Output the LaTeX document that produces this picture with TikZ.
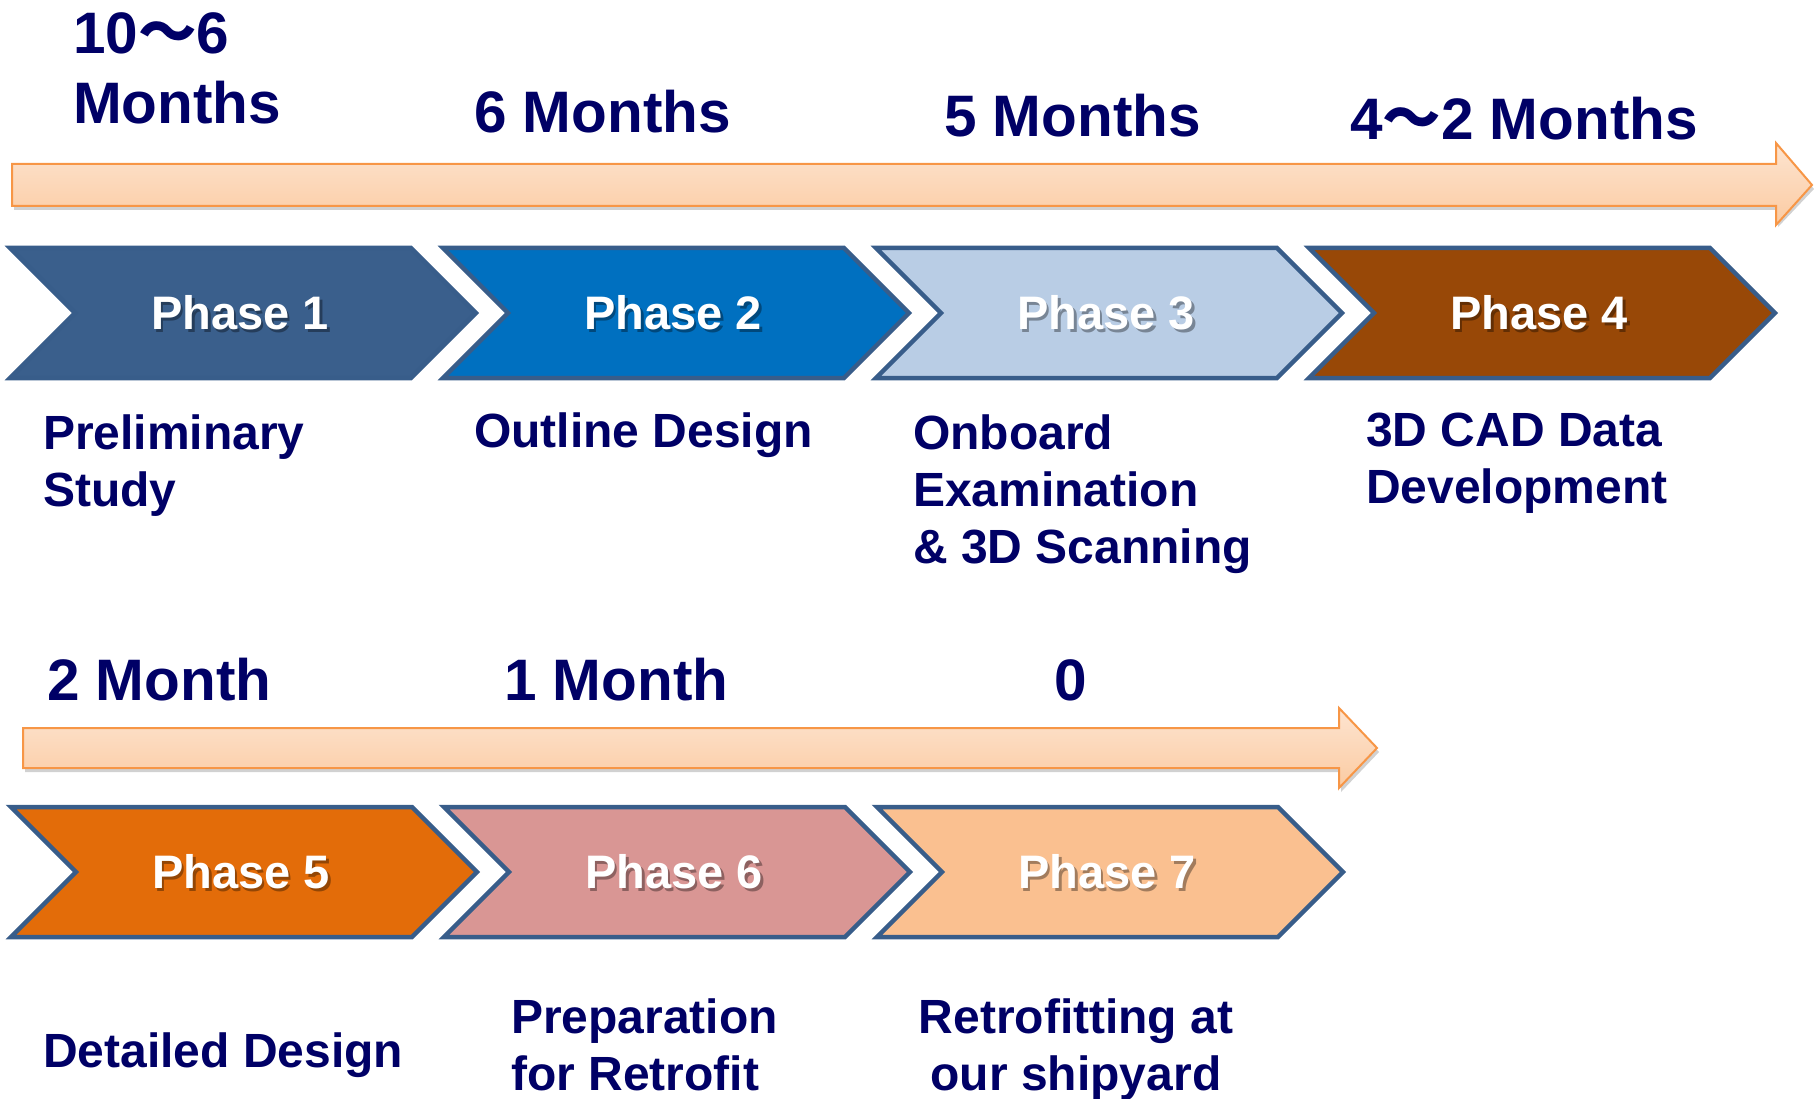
\documentclass[tikz,border=0pt]{standalone}
\usepackage{fontspec}
\setmainfont{Liberation Sans}
\newfontfamily\cjk{Noto Sans CJK JP}
\definecolor{navy}{HTML}{000066}
\definecolor{bordc}{HTML}{385D8A}
\definecolor{cA}{HTML}{3A5F8C}
\definecolor{cB}{HTML}{0070C0}
\definecolor{cC}{HTML}{B9CDE5}
\definecolor{cD}{HTML}{984807}
\definecolor{cE}{HTML}{E36C09}
\definecolor{cF}{HTML}{D99694}
\definecolor{cG}{HTML}{FAC090}
\definecolor{arrb}{HTML}{F79646}
\definecolor{arrt}{HTML}{FDE4D0}
\definecolor{arrbot}{HTML}{FBCBA2}
\newcommand\chevron[3]{%
  \filldraw[chevb, fill=#3] (#1,#2) -- ++(401,0) -- ++(65,65) -- ++(-65,65) -- ++(-401,0) -- ++(65,-65) -- cycle;}
\begin{document}
\begin{tikzpicture}[x=1pt,y=-1pt,
  chevb/.style={draw=bordc, line width=4.5pt, line join=miter},
  plab/.style={font=\fontsize{47}{56}\selectfont\bfseries, text=white, inner sep=0},
  pshad/.style={font=\fontsize{47}{56}\selectfont\bfseries, text=black, opacity=0.35, inner sep=0},
  mon/.style={font=\fontsize{58.5}{70}\selectfont\bfseries, text=navy, anchor=base west, inner sep=0, align=left},
  desc/.style={font=\fontsize{48}{57}\selectfont\bfseries, text=navy, anchor=base west, inner sep=0, align=left},
  tarrow/.style={draw=arrb, line width=2pt, top color=arrt, bottom color=arrbot},
  ashad/.style={fill=black, opacity=0.18}
]
\useasboundingbox (0,0) rectangle (1814,1099);

% top timeline arrow
\fill[ashad] (14,168) -- (1778,168) -- (1778,147) -- (1814,189) -- (1778,227) -- (1778,210) -- (14,210) -- cycle;
\path[tarrow] (12,164) -- (1776,164) -- (1776,143) -- (1812,185) -- (1776,225) -- (1776,206) -- (12,206) -- cycle;

% bottom timeline arrow
\fill[ashad] (25,732) -- (1341,732) -- (1341,712) -- (1379,752) -- (1341,792) -- (1341,772) -- (25,772) -- cycle;
\path[tarrow] (23,728) -- (1339,728) -- (1339,708) -- (1377,748) -- (1339,788) -- (1339,768) -- (23,768) -- cycle;

% month labels
\node[mon] (m1) at (73,124) {10{\cjk\bfseries 〜}6\\Months};
\node[mon] (m2) at (474,133) {6 Months};
\node[mon] (m3) at (944,137) {5 Months};
\node[mon] (m4) at (1350,140) {4{\cjk\bfseries 〜}2 Months};
\node[mon] (m5) at (47,700) {2 Month};
\node[mon] (m6) at (504,700) {1 Month};
\node[mon, anchor=base] (m7) at (1071,700) {0};

% chevrons row 1
\chevron{10}{248}{cA}
\chevron{443}{248}{cB}
\chevron{876}{248}{cC}
\chevron{1309}{248}{cD}
% chevrons row 2
\chevron{11}{807}{cE}
\chevron{444}{807}{cF}
\chevron{877}{807}{cG}

% phase labels
\foreach \i/\x/\y in {1/240/313, 2/673/313, 3/1106/313, 4/1539/313, 5/241/872, 6/674/872, 7/1107/872}{
  \node[pshad] (s\i) at (\x+2.5,\y+2.5) {Phase \i};
  \node[plab] (p\i) at (\x,\y) {Phase \i};
}

% descriptions
\node[desc] (d1) at (43,506) {Preliminary\\Study};
\node[desc] (d2) at (474,447) {Outline Design};
\node[desc] (d3) at (913,563) {Onboard\\Examination\\\& 3D Scanning};
\node[desc] (d4) at (1366,503) {3D CAD Data\\Development};
\node[desc] (d5) at (43,1067) {Detailed Design};
\node[desc] (d6) at (511,1090) {Preparation\\for Retrofit};
\node[desc, align=center, anchor=base] (d7) at (1076,1090) {Retrofitting at\\our shipyard};
\end{tikzpicture}
\end{document}
